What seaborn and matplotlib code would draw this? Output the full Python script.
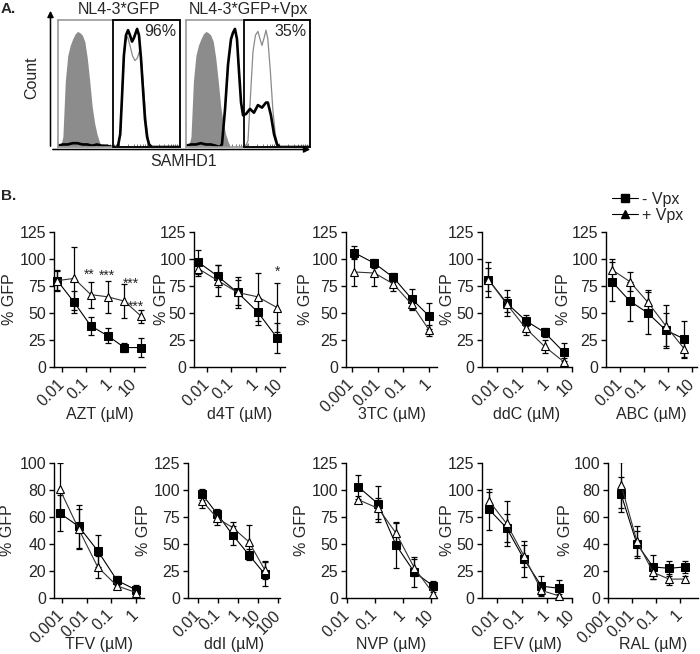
import numpy as np
import matplotlib
matplotlib.use("Agg")
import matplotlib.pyplot as plt
import seaborn as sns
from matplotlib.lines import Line2D
from matplotlib.patches import Rectangle, FancyArrowPatch

sns.set_theme(style="ticks")
plt.rcParams['font.family'] = ['Liberation Sans', 'DejaVu Sans']
plt.rcParams['font.size'] = 11

W, H = 700, 654
fig = plt.figure(figsize=(7, 6.54), dpi=100)


def px_axes(l, t, r, b):
    return fig.add_axes([l / W, 1 - b / H, (r - l) / W, (b - t) / H])


def px_text(x, y, s, **kw):
    fig.text(x / W, 1 - y / H, s, **kw)


# ---- panel A: SAMHD1 flow histograms (x = position in box 0-100, y = % of max)
iso_x = [2, 4, 6, 8, 10, 12, 14, 16, 18, 20, 22, 24, 26, 28, 30, 32, 34, 36]
iso_y = [0, 8, 52, 72, 80, 85, 89, 91, 90, 88, 83, 70, 52, 32, 19, 10, 4, 0]

gfp_black_x = [0, 4, 8, 12, 16, 20, 24, 28, 32, 36, 40, 44, 49, 51, 52.5, 54, 55.7,
               57.4, 59, 60.7, 62.3, 64.8, 66.4, 68, 69.7, 71.3, 73, 74.6, 77, 100]
gfp_black_y = [1, 2, 2, 3, 3, 2, 2, 1, 2, 1, 1, 0, 0, 10, 40, 72, 88,
               92, 88, 83, 86, 93, 88, 70, 45, 22, 8, 2, 0, 0]
gfp_gray_x = [49.5, 51.5, 53, 55, 57, 59, 61, 63, 65, 67, 68.5, 70, 72, 74, 76]
gfp_gray_y = [0, 15, 55, 82, 87, 80, 72, 68, 70, 76, 68, 48, 22, 6, 0]

vpx_black_x = [0, 4, 8, 12, 16, 20, 24, 27, 29, 31.5, 33.9, 36.3, 37.9, 39.5, 41.1,
               42.7, 44.4, 46, 48.4, 51.6, 54.8, 58, 61.3, 64.5, 66, 68.5, 71, 73.4,
               75.8, 100]
vpx_black_y = [1, 2, 2, 3, 2, 2, 1, 0, 2, 30, 65, 85, 90, 93, 85,
               60, 35, 25, 26, 30, 27, 33, 31, 35, 35, 25, 10, 2,
               0, 0]
vpx_gray_x = [40, 48, 50, 52, 54, 56, 58, 60, 61.3, 63, 64.5, 66, 68, 70, 72, 74, 76]
vpx_gray_y = [0, 0, 5, 40, 75, 88, 91, 84, 80, 86, 92, 85, 60, 30, 10, 2, 0]

gfp_gate = 45
vpx_gate = 47
gfp_pct = "96%"
vpx_pct = "35%"

hist_panels = [
    ((58, 20, 180, 147), "NL4-3*GFP", gfp_gray_x, gfp_gray_y, gfp_black_x, gfp_black_y,
     gfp_gate, gfp_pct),
    ((186, 20, 310, 147), "NL4-3*GFP+Vpx", vpx_gray_x, vpx_gray_y, vpx_black_x, vpx_black_y,
     vpx_gate, vpx_pct),
]

for box, title, gx, gy, bx, by, gate, pct in hist_panels:
    ax = px_axes(*box)
    ax.fill_between(iso_x, iso_y, color="#8c8c8c", lw=0)
    sns.lineplot(x=gx, y=gy, ax=ax, color="#8a8a8a", lw=0.9, sort=False, estimator=None)
    sns.lineplot(x=bx, y=by, ax=ax, color="black", lw=1.9, sort=False, estimator=None)
    ax.add_patch(Rectangle((gate, 0), 100 - gate, 100, fill=False, ec="black",
                           lw=1.3, clip_on=False, zorder=5))
    ax.set_xlim(0, 100)
    ax.set_ylim(0, 100)
    for s in ax.spines.values():
        s.set_color("#9a9a9a")
        s.set_linewidth(1.2)
    ax.set_yticks([])
    ax.set_xticks([0, 25, 50, 75, 100])
    ax.set_xticks([25 * (d + np.log10(m)) for d in range(4) for m in range(2, 10)], minor=True)
    ax.tick_params(axis="x", which="both", direction="in", color="#777777",
                   labelbottom=False, length=3, width=0.7)
    ax.tick_params(axis="x", which="minor", length=2)
    ax.text(0.5, 1.02, title, transform=ax.transAxes, ha="center", va="bottom", fontsize=11.5)
    ax.text(0.97, 0.91, pct, transform=ax.transAxes, ha="right", va="center", fontsize=11.5)

fig.add_artist(FancyArrowPatch((50.5 / W, 1 - 149 / H), (50.5 / W, 1 - 8 / H),
                               transform=fig.transFigure, arrowstyle="-|>",
                               mutation_scale=9, lw=1.1, color="black"))
fig.add_artist(FancyArrowPatch((50 / W, 1 - 149.5 / H), (313 / W, 1 - 149.5 / H),
                               transform=fig.transFigure, arrowstyle="-|>",
                               mutation_scale=9, lw=1.1, color="black"))
px_text(32, 78, "Count", rotation=90, ha="center", va="center", fontsize=11.5)
px_text(184, 161, "SAMHD1", ha="center", va="center", fontsize=11.5)
px_text(1, 9, "A.", ha="left", va="center", fontsize=11, fontweight="bold")
px_text(1, 196, "B.", ha="left", va="center", fontsize=11, fontweight="bold")

# ---- panel B: dose response (% GFP), mean and SD for - Vpx / + Vpx
azt_conc = [0.0064, 0.032, 0.16, 0.8, 4, 20]
azt_minus = [80, 60, 38, 29, 18, 18]
azt_minus_sd = [9, 10, 8, 7, 4.5, 9]
azt_plus = [80, 82, 67, 65, 61, 47]
azt_plus_sd = [10, 29, 12, 15, 16, 6]

d4t_conc = [0.0045, 0.028, 0.18, 1.2, 7.5]
d4t_minus = [97, 84, 69, 51, 27]
d4t_minus_sd = [11, 10, 12, 12, 14]
d4t_plus = [91, 80, 69, 65, 55]
d4t_plus_sd = [7, 14, 14, 22, 23]

tc3_conc = [0.0012, 0.0075, 0.04, 0.21, 1]
tc3_minus = [106, 96, 83, 63, 47]
tc3_minus_sd = [6, 4, 4, 9, 12]
tc3_plus = [88, 87, 77, 58, 34]
tc3_plus_sd = [13, 12, 7, 5, 5]

ddc_conc = [0.0045, 0.025, 0.14, 0.8, 4.6]
ddc_minus = [81, 59, 43, 32, 14]
ddc_minus_sd = [16, 12, 5, 4, 8]
ddc_plus = [81, 58, 36, 19, 5]
ddc_plus_sd = [11, 7, 6, 6, 3]

abc_conc = [0.0045, 0.025, 0.14, 0.8, 4.6]
abc_minus = [79, 61, 50, 34, 26]
abc_minus_sd = [18, 18, 19, 16, 17]
abc_plus = [90, 79, 60, 38, 17]
abc_plus_sd = [10, 9, 11, 19, 9]

tfv_conc = [0.0008, 0.0048, 0.028, 0.17, 1.0]
tfv_minus = [63, 53, 35, 13, 6]
tfv_minus_sd = [13, 16, 12, 3, 4]
tfv_plus = [81, 51, 23, 9, 4]
tfv_plus_sd = [19, 15, 8, 2.5, 2]

ddi_conc = [0.016, 0.09, 0.56, 3.5, 22]
ddi_minus = [96, 78, 58, 40, 22]
ddi_minus_sd = [5, 4, 9, 5, 11]
ddi_plus = [90, 74, 65, 52, 26]
ddi_plus_sd = [7, 6, 5, 16, 8]

nvp_conc = [0.025, 0.13, 0.56, 2.5, 12]
nvp_minus = [103, 87, 49, 24, 11]
nvp_minus_sd = [11, 17, 21, 14, 5]
nvp_plus = [91, 83, 60, 28, 4]
nvp_plus_sd = [3, 10, 9, 8, 3]

efv_conc = [0.0048, 0.024, 0.12, 0.6, 3]
efv_minus = [82, 65, 36, 11, 9]
efv_minus_sd = [19, 13, 17, 9, 8]
efv_plus = [90, 69, 39, 7, 2]
efv_plus_sd = [8, 21, 10, 4, 2]

ral_conc = [0.0035, 0.016, 0.076, 0.35, 1.6]
ral_minus = [77, 40, 23, 22, 23]
ral_minus_sd = [13, 10, 9, 5.5, 4.5]
ral_plus = [84, 42, 19, 14, 14]
ral_plus_sd = [17, 11, 5, 4, 2.5]

# significance marks (label, conc, %GFP)
azt_stars = [("**", 0.14, 85), ("***", 0.75, 84), ("***", 7.5, 77.5), ("***", 12.2, 56)]
d4t_stars = [("*", 7.5, 88)]

dec3 = [0.001, 0.01, 0.1, 1]
dec2 = [0.01, 0.1, 1, 10]
dec2b = [0.01, 0.1, 1, 10, 100]

# name, data, (left, right, top, bottom) px, ymax, xlim exponents, xticks, ylabel x px
panels = [
    ("AZT", azt_conc, azt_minus, azt_minus_sd, azt_plus, azt_plus_sd, (54, 145, 232, 367), 125, (-2.33, 1.46), dec2, 10, azt_stars),
    ("d4T", d4t_conc, d4t_minus, d4t_minus_sd, d4t_plus, d4t_plus_sd, (194, 285, 232, 367), 125, (-2.53, 1.2), dec2, 161, d4t_stars),
    ("3TC", tc3_conc, tc3_minus, tc3_minus_sd, tc3_plus, tc3_plus_sd, (346, 437, 232, 367), 125, (-3.23, 0.3), dec3, 306, []),
    ("ddC", ddc_conc, ddc_minus, ddc_minus_sd, ddc_plus, ddc_plus_sd, (482, 572, 232, 367), 125, (-2.6, 1.0), dec2, 448, []),
    ("ABC", abc_conc, abc_minus, abc_minus_sd, abc_plus, abc_plus_sd, (606, 697, 232, 367), 125, (-2.6, 1.2), dec2, 564, []),
    ("TFV", tfv_conc, tfv_minus, tfv_minus_sd, tfv_plus, tfv_plus_sd, (54, 144, 463, 598), 100, (-3.32, 0.32), dec3, 8, []),
    ("ddI", ddi_conc, ddi_minus, ddi_minus_sd, ddi_plus, ddi_plus_sd, (188, 280, 463, 598), 125, (-2.5, 2.1), dec2b, 144, []),
    ("NVP", nvp_conc, nvp_minus, nvp_minus_sd, nvp_plus, nvp_plus_sd, (346, 437, 463, 598), 125, (-2.04, 1.21), dec2, 302, []),
    ("EFV", efv_conc, efv_minus, efv_minus_sd, efv_plus, efv_plus_sd, (482, 572, 463, 598), 125, (-2.6, 1.0), dec2, 448, []),
    ("RAL", ral_conc, ral_minus, ral_minus_sd, ral_plus, ral_plus_sd, (608, 698, 463, 598), 100, (-3.0, 0.75), dec3, 565, []),
]

for name, conc, mn, mn_sd, pl, pl_sd, (l, r, t, b), ymax, xl, xt, ylx, stars in panels:
    ax = px_axes(l, t, r, b)
    ax.errorbar(conc, mn, yerr=mn_sd, fmt="none", ecolor="black", elinewidth=0.9,
                capsize=2.4, capthick=0.9, zorder=2)
    ax.errorbar(conc, pl, yerr=pl_sd, fmt="none", ecolor="black", elinewidth=0.9,
                capsize=2.4, capthick=0.9, zorder=2)
    sns.lineplot(x=conc, y=mn, ax=ax, color="black", lw=0.8, marker="s", markersize=5.8,
                 markerfacecolor="black", markeredgecolor="black", clip_on=False, zorder=3)
    sns.lineplot(x=conc, y=pl, ax=ax, color="#333333", lw=0.8, marker="^", markersize=6.2,
                 markerfacecolor="white", markeredgecolor="black", markeredgewidth=0.8,
                 clip_on=False, zorder=4)
    ax.set_xscale("log")
    ax.set_xlim(10 ** xl[0], 10 ** xl[1])
    ax.set_ylim(0, ymax)
    ax.set_yticks(np.arange(0, ymax + 1, 25 if ymax == 125 else 20))
    ax.set_xticks(xt)
    ax.set_xticklabels([f"{v:g}" for v in xt], rotation=45, ha="right", va="center",
                       rotation_mode="anchor")
    ax.minorticks_off()
    ax.tick_params(axis="both", direction="out", length=3.5, width=1, labelsize=11.5,
                   pad=2, color="black")
    ax.tick_params(axis="x", pad=7)
    sns.despine(ax=ax)
    for s in ("left", "bottom"):
        ax.spines[s].set_linewidth(1.0)
        ax.spines[s].set_color("black")
    ax.set_xlabel("")
    ax.set_ylabel("")
    for lab, x, y in stars:
        ax.text(x, y, lab, ha="center", va="center", fontsize=10, clip_on=False)
    px_text(ylx, (t + b) / 2, "% GFP", rotation=90, ha="center", va="center", fontsize=11.5)
    px_text((l + r) / 2, b + 47, f"{name} (\u00b5M)", ha="center", va="center", fontsize=11.5)

handles = [
    Line2D([0], [0], color="black", lw=0.8, marker="s", markersize=5.5),
    Line2D([0], [0], color="black", lw=0.8, marker="^", markersize=6),
]
fig.legend(handles, ["- Vpx", "+ Vpx"], loc="upper left",
           bbox_to_anchor=(612 / W, 1 - 192 / H), frameon=False, handlelength=1.6,
           handletextpad=0.3, labelspacing=0.05, borderpad=0, borderaxespad=0, fontsize=11.5)

fig.savefig("out.png", dpi=100, facecolor="white")
